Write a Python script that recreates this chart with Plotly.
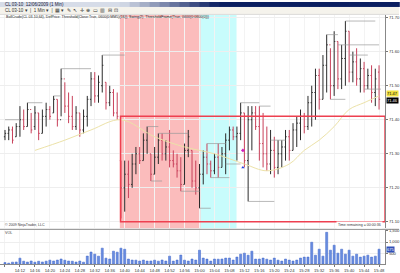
import plotly.graph_objects as go

# ---------------- data ----------------
bar_index = list(range(101))
open_ = [71.35,71.36,71.37,71.35,71.38,71.40,71.38,71.43,71.38,71.42,
         71.36,71.41,71.43,71.42,71.46,71.40,71.52,71.44,71.41,71.38,
         71.42,71.37,71.41,71.46,71.52,71.47,71.50,71.51,71.45,71.48,
         71.42,71.28,71.20,71.24,71.21,71.27,71.30,71.28,71.34,71.30,
         71.24,71.29,71.34,71.30,71.32,71.28,71.27,71.25,71.21,71.31,
         71.31,71.22,71.20,71.24,71.29,71.27,71.25,71.29,71.26,71.30,
         71.34,71.37,71.35,71.36,71.42,71.28,71.40,71.42,71.38,71.33,
         71.30,71.27,71.31,71.26,71.30,71.32,71.35,71.31,71.37,71.39,
         71.41,71.38,71.45,71.48,71.53,71.46,71.56,71.62,71.50,71.63,
         71.52,71.58,71.66,71.54,71.57,71.52,71.55,71.50,71.53,71.48,
         71.54]
high = [71.37,71.38,71.38,71.39,71.44,71.43,71.45,71.42,71.44,71.42,
        71.43,71.45,71.44,71.47,71.46,71.55,71.51,71.48,71.47,71.44,
        71.42,71.43,71.47,71.54,71.54,71.53,71.59,71.51,71.50,71.49,
        71.48,71.28,71.28,71.28,71.30,71.32,71.32,71.36,71.38,71.30,
        71.32,71.36,71.36,71.34,71.37,71.31,71.30,71.29,71.33,71.37,
        71.31,71.28,71.27,71.31,71.33,71.28,71.30,71.33,71.32,71.36,
        71.38,71.38,71.38,71.45,71.42,71.44,71.44,71.44,71.44,71.42,
        71.38,71.37,71.35,71.34,71.34,71.37,71.37,71.39,71.41,71.43,
        71.42,71.47,71.50,71.55,71.55,71.59,71.65,71.61,71.66,71.63,
        71.62,71.69,71.66,71.60,71.61,71.58,71.57,71.55,71.56,71.55,
        71.56]
low = [71.34,71.34,71.33,71.35,71.35,71.37,71.38,71.36,71.37,71.34,
       71.36,71.38,71.40,71.42,71.38,71.41,71.42,71.39,71.37,71.37,
       71.35,71.36,71.38,71.44,71.45,71.45,71.48,71.43,71.44,71.41,
       71.40,71.11,71.13,71.17,71.20,71.24,71.27,71.28,71.30,71.22,
       71.24,71.27,71.28,71.28,71.26,71.26,71.23,71.19,71.21,71.29,
       71.20,71.18,71.14,71.21,71.24,71.23,71.24,71.23,71.26,71.24,
       71.31,71.34,71.28,71.34,71.26,71.16,71.31,71.37,71.28,71.26,
       71.25,71.24,71.23,71.24,71.26,71.28,71.28,71.31,71.32,71.34,
       71.36,71.37,71.38,71.40,71.43,71.46,71.48,71.46,71.47,71.49,
       71.49,71.50,71.51,71.51,71.50,71.48,71.48,71.49,71.45,71.44,
       71.43]
close = [71.36,71.37,71.34,71.38,71.40,71.38,71.43,71.37,71.42,71.36,
         71.41,71.43,71.41,71.46,71.40,71.52,71.44,71.41,71.38,71.42,
         71.37,71.41,71.46,71.52,71.47,71.51,71.56,71.45,71.48,71.42,
         71.41,71.20,71.24,71.21,71.27,71.30,71.28,71.34,71.36,71.24,
         71.29,71.34,71.30,71.32,71.28,71.27,71.25,71.21,71.31,71.35,
         71.22,71.20,71.24,71.29,71.27,71.25,71.29,71.26,71.30,71.34,
         71.37,71.35,71.36,71.42,71.28,71.40,71.42,71.38,71.33,71.30,
         71.27,71.31,71.26,71.30,71.32,71.35,71.31,71.37,71.39,71.41,
         71.38,71.45,71.48,71.53,71.46,71.56,71.62,71.50,71.63,71.52,
         71.58,71.66,71.54,71.57,71.52,71.55,71.50,71.53,71.48,71.52,
         71.46]
volume = [68,42,88,95,268,130,92,140,85,128,
          95,132,178,140,182,230,175,138,130,92,
          138,88,362,545,450,358,722,268,230,585,
          540,720,672,228,182,178,138,182,135,140,
          178,132,185,138,360,135,182,408,178,138,
          228,182,630,272,225,135,228,222,230,270,
          272,182,318,450,495,402,585,225,228,270,
          222,182,270,178,135,228,180,138,182,272,
          315,318,990,402,675,360,1440,630,855,495,
          675,450,630,360,450,315,360,405,315,360,
          675]
ma_index = [8, 16, 23, 31, 40, 48, 56, 64, 70, 76, 80, 84, 88, 92, 96, 100]
ma_value = [71.31, 71.34, 71.37, 71.40, 71.35, 71.32, 71.30, 71.27, 71.25,
            71.27, 71.31, 71.34, 71.38, 71.43, 71.45, 71.47]
swing_start = [0, 6, 13, 15, 26, 38, 41, 39, 47, 52, 54, 55, 59, 63, 68, 71, 65, 87, 86, 91, 89, 92, 96]
swing_end   = [4, 10, 15, 23, 32, 41, 49, 42, 52, 55, 59, 60, 63, 68, 71, 75, 72, 91, 89, 99, 100, 97, 100.5]
swing_price = [71.40, 71.45, 71.47, 71.55, 71.59, 71.38, 71.36, 71.22, 71.19, 71.14, 71.33,
               71.23, 71.27, 71.45, 71.44, 71.34, 71.16, 71.46, 71.65, 71.69, 71.62, 71.59, 71.49]
signal_index = [63.6, 63.6]
signal_price = [71.31, 71.26]
pink_zone = [30.7, 52.3]
cyan_zone = [52.3, 61.9]
box_start = 30.9
box_top = 71.41
box_bottom = 71.10
price_ticks = [71.10, 71.20, 71.30, 71.40, 71.50, 71.60, 71.70]
volume_ticks = [500, 1000, 1500]
tick_index = list(range(0, 101, 4))
tick_labels = ["14:08","14:12","14:16","14:20","14:24","14:28","14:32","14:36",
               "14:40","14:44","14:48","14:52","14:56","15:00","15:04","15:08",
               "15:12","15:16","15:20","15:24","15:28","15:32","15:36","15:40",
               "15:44","15:48"]

# ---------------- figure ----------------
W, H = 400, 273
def px(x): return x / W
def py(y): return 1 - y / H

FONT = "Liberation Sans, Arial, sans-serif"
fig = go.Figure()

# swing lines
sx, sy = [], []
for a, b, p in zip(swing_start, swing_end, swing_price):
    sx += [a, b, None]
    sy += [p, p, None]
fig.add_trace(go.Scatter(x=sx, y=sy, mode="lines", line=dict(color="#9a9a9a", width=0.7),
                         hoverinfo="skip", xaxis="x", yaxis="y"))

# moving average
fig.add_trace(go.Scatter(x=ma_index, y=ma_value, mode="lines",
                         line=dict(color="#ece2a8", width=1, shape="spline"),
                         xaxis="x", yaxis="y"))

# price bars
fig.add_trace(go.Ohlc(x=bar_index, open=open_, high=high, low=low, close=close,
                      increasing=dict(line=dict(color="#2b2b2b", width=1)),
                      decreasing=dict(line=dict(color="#c8405a", width=1)),
                      tickwidth=0.3, xaxis="x", yaxis="y"))

# signal markers
fig.add_trace(go.Scatter(x=signal_index, y=signal_price, mode="markers",
                         marker=dict(symbol=["diamond", "triangle-up"], size=3,
                                     color=["#d020c0", "#2040e0"]),
                         xaxis="x", yaxis="y"))

# volume
fig.add_trace(go.Bar(x=bar_index, y=volume, width=0.55,
                     marker=dict(color="#6a8ee0", line=dict(color="#3d63c8", width=0.5)),
                     xaxis="x", yaxis="y2"))

shapes = []
# zones
shapes.append(dict(type="rect", xref="x", yref="paper", x0=pink_zone[0], x1=pink_zone[1],
                   y0=py(228), y1=py(13), fillcolor="#fbbcbc", line=dict(width=0), layer="below"))
shapes.append(dict(type="rect", xref="x", yref="paper", x0=cyan_zone[0], x1=cyan_zone[1],
                   y0=py(228), y1=py(13), fillcolor="#c8fcfc", line=dict(width=0), layer="below"))
# red box
shapes.append(dict(type="rect", xref="x", yref="y", x0=box_start, x1=101.6,
                   y0=box_bottom, y1=box_top, line=dict(color="#ee4050", width=1.5),
                   fillcolor="rgba(0,0,0,0)", layer="above"))
# pane separator
shapes.append(dict(type="line", xref="paper", yref="paper", x0=0, x1=1,
                   y0=py(229), y1=py(229), line=dict(color="#888888", width=1)))
# header: title bar gradient
n = 40
c0 = (214, 220, 232); c1 = (10, 30, 96)
for k in range(n):
    t = k / (n - 1)
    if t < 0.3:
        f = 0
    elif t > 0.55:
        f = 1
    else:
        f = (t - 0.3) / 0.25
    col = "rgb(%d,%d,%d)" % tuple(int(c0[j] + (c1[j] - c0[j]) * f) for j in range(3))
    shapes.append(dict(type="rect", xref="paper", yref="paper", x0=k / n, x1=(k + 1) / n + 0.002,
                       y0=py(5), y1=1, fillcolor=col, line=dict(width=0), layer="above"))
# toolbar
shapes.append(dict(type="rect", xref="paper", yref="paper", x0=0, x1=1, y0=py(12.5), y1=py(5),
                   fillcolor="#f5f3ec", line=dict(width=0), layer="above"))
shapes.append(dict(type="line", xref="paper", yref="paper", x0=0, x1=1, y0=py(12.5), y1=py(12.5),
                   line=dict(color="#c8c8c8", width=0.6), layer="above"))

ann = []
ann.append(dict(text="CL 03-10  12/06/2009 (1 Min)", x=px(3), y=py(2.6), xref="paper", yref="paper",
                xanchor="left", yanchor="middle", showarrow=False, font=dict(size=4.5, color="#1a1a3a", family=FONT)))
ann.append(dict(text="CL 03-10 ▾  |  1 Min ▾  |  ▦ ▾  ✎  ↖  ✛  ⊕  ▭  ▥  ⊟  ⊡",
                x=px(3), y=py(8.7), xref="paper", yref="paper", xanchor="left", yanchor="middle",
                showarrow=False, font=dict(size=4.5, color="#333333", family=FONT)))
ann.append(dict(text="BollCrude(CL 03-10,64), DefPrice: Threshold(Close:True, 0600(0:MM5)(16)), Swing(2), ThresholdFrame(True, 0600(0:0600(0)))",
                x=px(4), y=py(15.5), xref="paper", yref="paper", xanchor="left", yanchor="middle",
                showarrow=False, font=dict(size=3.6, color="#222222", family=FONT)))
ann.append(dict(text="© 2009 NinjaTrader, LLC", x=px(3), y=py(224.5), xref="paper", yref="paper",
                xanchor="left", yanchor="middle", showarrow=False, font=dict(size=3.6, color="#333333", family=FONT)))
ann.append(dict(text="Time remaining = 00:00:36", x=px(384), y=py(224.5), xref="paper", yref="paper",
                xanchor="right", yanchor="middle", showarrow=False, bgcolor="#ffffff",
                font=dict(size=3.6, color="#333333", family=FONT)))
ann.append(dict(text="VOL", x=px(3), y=py(233), xref="paper", yref="paper",
                xanchor="left", yanchor="middle", showarrow=False, font=dict(size=3.6, color="#333333", family=FONT)))
# current value tags
ann.append(dict(text="%.2f" % ma_value[-1], x=px(387), y=ma_value[-1] + 0.006, xref="paper", yref="y",
                xanchor="left", yanchor="middle", showarrow=False, bgcolor="#f0e040",
                font=dict(size=4, color="#000000", family=FONT), borderpad=0))
ann.append(dict(text="%.2f" % close[-1], x=px(387), y=close[-1] - 0.004, xref="paper", yref="y",
                xanchor="left", yanchor="middle", showarrow=False, bgcolor="#000000",
                font=dict(size=4, color="#ffffff", family=FONT), borderpad=0))
ann.append(dict(text="%d" % volume[-1], x=px(387), y=volume[-1], xref="paper", yref="y2",
                xanchor="left", yanchor="middle", showarrow=False, bgcolor="#3050b8",
                font=dict(size=4, color="#ffffff", family=FONT), borderpad=0))

fig.update_layout(
    width=W, height=H, margin=dict(l=0, r=0, t=0, b=0),
    paper_bgcolor="#ffffff", plot_bgcolor="#ffffff", showlegend=False,
    shapes=shapes, annotations=ann,
    font=dict(family=FONT, size=4.5, color="#333333"),
    xaxis=dict(domain=[0, px(386)], range=[-1.333, 101.6], anchor="y2",
               tickmode="array", tickvals=tick_index, ticktext=tick_labels,
               tickfont=dict(size=4.2), ticks="outside", ticklen=2, tickcolor="#777777",
               showgrid=True, gridcolor="#f3f3f3", gridwidth=1,
               showline=True, linecolor="#888888", linewidth=1,
               rangeslider=dict(visible=False), zeroline=False, fixedrange=True),
    yaxis=dict(domain=[py(228), py(13)], range=[71.081, 71.708], side="right", anchor="x",
               tickmode="array", tickvals=price_ticks, ticktext=["%.2f" % v for v in price_ticks],
               tickfont=dict(size=4.2), ticks="outside", ticklen=2, tickcolor="#777777",
               showgrid=True, gridcolor="#eeeeee", gridwidth=1,
               showline=True, linecolor="#888888", linewidth=1, zeroline=False),
    yaxis2=dict(domain=[py(264), py(230)], range=[0, 1530], side="right", anchor="x",
                tickmode="array", tickvals=volume_ticks, ticktext=["{:,}".format(v) for v in volume_ticks],
                tickfont=dict(size=4.2), ticks="outside", ticklen=2, tickcolor="#777777",
                showgrid=True, gridcolor="#eeeeee",
                showline=True, linecolor="#888888", linewidth=1, zeroline=False),
    bargap=0.3,
)

fig.write_html("out.html")
